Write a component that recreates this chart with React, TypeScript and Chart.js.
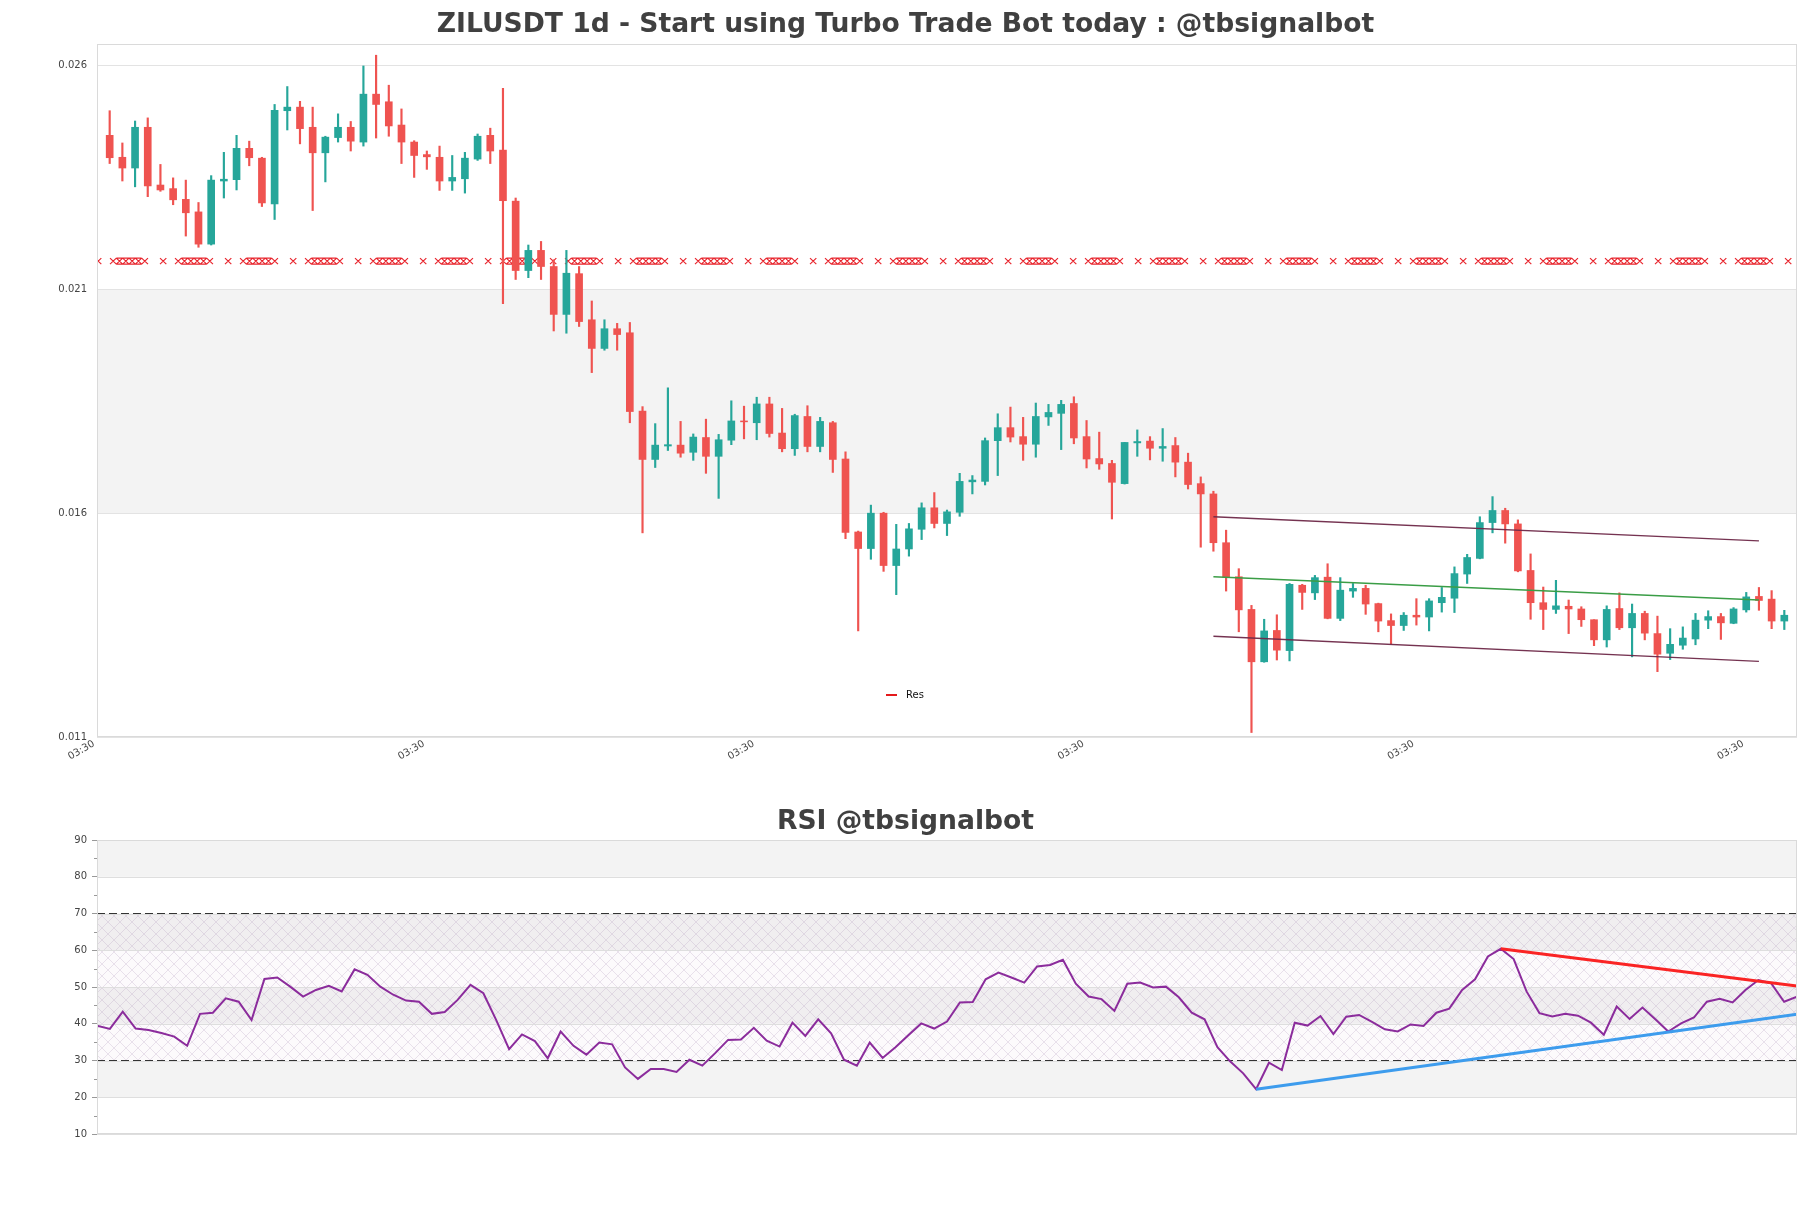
import React, { useEffect, useRef } from 'react';
import { Chart, registerables } from 'chart.js';

Chart.register(...registerables);

const TITLE = 'ZILUSDT 1d - Start using Turbo Trade Bot today : @tbsignalbot';
const RSI_TITLE = 'RSI @tbsignalbot';

const OPEN = [
  0.02444, 0.02395, 0.02371, 0.02462, 0.02333, 0.02325, 0.02301, 0.02273, 0.02201, 0.02342,
  0.02345, 0.02415, 0.02393, 0.02291, 0.02499, 0.02507, 0.02462, 0.02405, 0.02439, 0.02462,
  0.02429, 0.02536, 0.02519, 0.02467, 0.02429, 0.02401, 0.02395, 0.02342, 0.02347, 0.02391,
  0.02444, 0.02411, 0.02297, 0.02142, 0.02187, 0.02151, 0.02044, 0.02135, 0.02032, 0.01968,
  0.02012, 0.02003, 0.01828, 0.0172, 0.0175, 0.01752, 0.01736, 0.01769, 0.01727, 0.01763,
  0.01806, 0.01802, 0.01844, 0.01779, 0.01744, 0.01816, 0.01749, 0.01802, 0.01721, 0.01558,
  0.01521, 0.016, 0.01483, 0.0152, 0.01564, 0.01612, 0.01577, 0.01602, 0.0167, 0.01671,
  0.01762, 0.01791, 0.01771, 0.01754, 0.01815, 0.01823, 0.01845, 0.01771, 0.01722, 0.01711,
  0.01666, 0.01757, 0.01761, 0.01745, 0.01751, 0.01714, 0.01666, 0.01643, 0.01534, 0.01458,
  0.01385, 0.01268, 0.01338, 0.01293, 0.01439, 0.01422, 0.01457, 0.01365, 0.01426, 0.01432,
  0.01398, 0.0136, 0.01349, 0.01372, 0.01368, 0.014, 0.0141, 0.01464, 0.01499, 0.01579,
  0.01606, 0.01576, 0.01472, 0.014, 0.01385, 0.01392, 0.01386, 0.01362, 0.01317, 0.01387,
  0.01344, 0.01376, 0.01331, 0.01287, 0.01305, 0.01319, 0.01361, 0.01369, 0.01354, 0.01384,
  0.01414, 0.01408, 0.01359,
];
const HIGH = [
  0.02499, 0.02427, 0.02476, 0.02483, 0.02379, 0.02349, 0.02344, 0.02294, 0.02354, 0.02406,
  0.02444, 0.02431, 0.02395, 0.02513, 0.02553, 0.0252, 0.02507, 0.02442, 0.02492, 0.02475,
  0.02599, 0.02623, 0.02556, 0.02503, 0.02432, 0.02409, 0.0242, 0.02399, 0.02406, 0.02447,
  0.0246, 0.02549, 0.02304, 0.02199, 0.02207, 0.02166, 0.02187, 0.02151, 0.02074, 0.02032,
  0.02024, 0.02026, 0.01838, 0.018, 0.0188, 0.01805, 0.01777, 0.0181, 0.01776, 0.01851,
  0.01839, 0.01859, 0.01859, 0.01834, 0.01821, 0.0184, 0.01814, 0.01805, 0.01737, 0.0156,
  0.01618, 0.01602, 0.01575, 0.01577, 0.01623, 0.01646, 0.01607, 0.01689, 0.01684, 0.01768,
  0.01822, 0.01837, 0.01814, 0.01846, 0.01843, 0.01852, 0.0186, 0.01807, 0.01781, 0.01718,
  0.01758, 0.01786, 0.01771, 0.01789, 0.01769, 0.01734, 0.01681, 0.01649, 0.01562, 0.01476,
  0.01394, 0.01363, 0.01373, 0.01443, 0.01441, 0.01461, 0.01487, 0.01456, 0.01443, 0.01439,
  0.01399, 0.01375, 0.01378, 0.01409, 0.01409, 0.01434, 0.0148, 0.01508, 0.01592, 0.01637,
  0.01611, 0.01585, 0.01509, 0.01435, 0.0145, 0.01406, 0.01391, 0.01362, 0.01393, 0.01422,
  0.01397, 0.01381, 0.0137, 0.01342, 0.01346, 0.01376, 0.01382, 0.01376, 0.01389, 0.01423,
  0.01434, 0.01427, 0.01383,
];
const LOW = [
  0.02381, 0.02342, 0.02329, 0.02307, 0.02319, 0.02289, 0.02219, 0.02194, 0.02199, 0.02304,
  0.02322, 0.02376, 0.02285, 0.02256, 0.02456, 0.02425, 0.02276, 0.0234, 0.02429, 0.02409,
  0.0242, 0.02438, 0.02442, 0.02381, 0.0235, 0.02368, 0.02321, 0.02321, 0.02315, 0.02388,
  0.02381, 0.02068, 0.02122, 0.02126, 0.02122, 0.02007, 0.02002, 0.02017, 0.01914, 0.01964,
  0.01964, 0.01802, 0.01556, 0.01702, 0.0174, 0.01725, 0.01718, 0.01689, 0.01633, 0.01753,
  0.01766, 0.01764, 0.0177, 0.01737, 0.01729, 0.01737, 0.01737, 0.01691, 0.01543, 0.01337,
  0.01497, 0.0147, 0.01418, 0.01504, 0.01541, 0.01567, 0.0155, 0.01593, 0.01643, 0.01663,
  0.01684, 0.01759, 0.01718, 0.01725, 0.01796, 0.01742, 0.01755, 0.01701, 0.01698, 0.01587,
  0.01665, 0.01727, 0.01719, 0.01716, 0.01681, 0.01654, 0.01524, 0.01515, 0.01426, 0.01335,
  0.0111, 0.01267, 0.01272, 0.0127, 0.01385, 0.01407, 0.01364, 0.0136, 0.01412, 0.01374,
  0.01335, 0.01308, 0.01338, 0.0135, 0.01337, 0.01379, 0.01378, 0.01443, 0.01498, 0.01556,
  0.01533, 0.01469, 0.01363, 0.0134, 0.01376, 0.01331, 0.01347, 0.01304, 0.01301, 0.0134,
  0.01279, 0.01317, 0.01246, 0.01273, 0.01296, 0.01306, 0.01342, 0.01318, 0.01353, 0.01379,
  0.01383, 0.01342, 0.0134,
];
const CLOSE = [
  0.02394, 0.02371, 0.02462, 0.02331, 0.02322, 0.023, 0.02271, 0.02201, 0.02344, 0.02346,
  0.02415, 0.02394, 0.02293, 0.025, 0.02507, 0.02459, 0.02405, 0.0244, 0.02462, 0.02431,
  0.02536, 0.02513, 0.02465, 0.02429, 0.02399, 0.02396, 0.02342, 0.0235, 0.02393, 0.02442,
  0.02409, 0.02298, 0.02142, 0.02187, 0.02151, 0.02044, 0.02136, 0.02028, 0.01968, 0.02012,
  0.01999, 0.01827, 0.0172, 0.01752, 0.01753, 0.01734, 0.0177, 0.01727, 0.01764, 0.01806,
  0.01804, 0.01844, 0.01778, 0.01744, 0.01818, 0.01749, 0.01805, 0.0172, 0.01557, 0.01521,
  0.016, 0.01483, 0.0152, 0.01565, 0.01612, 0.01577, 0.01603, 0.01671, 0.01674, 0.01762,
  0.01791, 0.0177, 0.01754, 0.01816, 0.01825, 0.01843, 0.01768, 0.01721, 0.0171, 0.01669,
  0.01758, 0.0176, 0.01745, 0.01749, 0.01714, 0.01664, 0.01643, 0.01534, 0.01457, 0.01384,
  0.01268, 0.01337, 0.01294, 0.01441, 0.01423, 0.01456, 0.01365, 0.01428, 0.01432, 0.01397,
  0.01359, 0.01349, 0.01372, 0.01368, 0.01404, 0.01412, 0.01465, 0.01501, 0.01579, 0.01606,
  0.01576, 0.01471, 0.014, 0.01385, 0.01393, 0.01386, 0.01362, 0.01317, 0.01385, 0.01344,
  0.01376, 0.01332, 0.01285, 0.01307, 0.01321, 0.01361, 0.01369, 0.01355, 0.01386, 0.01413,
  0.01405, 0.01359, 0.01372,
];

const RSI = [
  39.5, 38.6, 43.3, 38.7, 38.3, 37.5, 36.5, 34.0, 42.7, 43.0,
  46.9, 46.0, 41.0, 52.2, 52.6, 50.1, 47.4, 49.2, 50.3, 48.8,
  54.8, 53.3, 50.1, 47.9, 46.3, 46.0, 42.7, 43.2, 46.5, 50.6,
  48.3, 41.0, 33.1, 37.1, 35.3, 30.6, 37.9, 34.0, 31.6, 34.9,
  34.4, 28.1, 25.0, 27.7, 27.7, 26.9, 30.2, 28.6, 32.0, 35.6,
  35.7, 38.9, 35.4, 33.8, 40.3, 36.7, 41.2, 37.4, 30.2, 28.6,
  34.9, 30.7, 33.6, 36.9, 40.1, 38.7, 40.6, 45.8, 45.9, 52.1,
  53.9, 52.6, 51.2, 55.6, 56.0, 57.4, 50.9, 47.4, 46.7, 43.5,
  50.9, 51.2, 49.9, 50.1, 47.2, 43.0, 41.2, 33.6, 29.7, 26.5,
  22.2, 29.4, 27.4, 40.3, 39.5, 42.1, 37.2, 41.9, 42.4, 40.5,
  38.5, 37.9, 39.8, 39.4, 43.0, 44.1, 49.2, 52.1, 58.3, 60.4,
  57.6, 48.8, 42.9, 42.0, 42.7, 42.2, 40.3, 37.0, 44.7, 41.3,
  44.4, 41.2, 37.9, 40.1, 41.7, 46.0, 46.8, 45.8, 49.2, 51.9,
  51.0, 46.0, 47.4,
];

const RES_LABEL = 'Res';
const RES_LEVEL = 0.02163;
const CHANNEL_X = [87, 130];
const CHANNEL_UPPER = [0.01592, 0.01538];
const CHANNEL_MID = [0.01458, 0.01406];
const CHANNEL_LOWER = [0.01325, 0.01269];

const PRICE_MIN = 0.011;
const PRICE_MAX = 0.02648;
const PRICE_TICKS = [0.011, 0.016, 0.021, 0.026];
const PRICE_BANDS = [[0.016, 0.021]];
const TIME_TICKS = [-1, 25, 51, 77, 103, 129];
const TIME_LABELS = ['03:30', '03:30', '03:30', '03:30', '03:30', '03:30'];

const RSI_MIN = 10;
const RSI_MAX = 90;
const RSI_TICKS = [10, 15, 20, 25, 30, 35, 40, 45, 50, 55, 60, 65, 70, 75, 80, 85, 90];
const RSI_GRID = [10, 20, 30, 40, 50, 60, 70, 80, 90];
const RSI_BANDS = [[20, 30], [40, 50], [60, 70], [80, 90]];
const RSI_HATCH = [30, 70];
const RSI_LEVELS = [70, 30];
const RSI_RES_X = [109, 132];
const RSI_RES_Y = [60.4, 50.3];
const RSI_SUP_X = [90, 132];
const RSI_SUP_Y = [22.2, 42.6];

const GREEN = '#26a69a';
const RED = '#ef5350';
const FONT = "'DejaVu Sans', 'Liberation Sans', sans-serif";

const N = OPEN.length;
const IDX = OPEN.map((_, i) => i);

function drawResBand(ctx: CanvasRenderingContext2D, x0: number, x1: number, yc: number) {
  const h = 3;
  const cw = 6.33;
  const period = 65;
  ctx.save();
  ctx.beginPath();
  ctx.rect(x0, yc - h - 2, x1 - x0, 2 * h + 4);
  ctx.clip();
  ctx.strokeStyle = '#e8262e';
  ctx.lineWidth = 1.2;
  ctx.beginPath();
  const cross = (q: number) => {
    ctx.moveTo(q, yc - h);
    ctx.lineTo(q + cw, yc + h);
    ctx.moveTo(q, yc + h);
    ctx.lineTo(q + cw, yc - h);
  };
  for (let p = x0 - 52; p < x1; p += period) {
    let q = p;
    for (let k = 0; k < 6; k++) {
      cross(q);
      q += cw;
    }
    ctx.moveTo(p + cw, yc - h);
    ctx.lineTo(q - cw, yc - h);
    ctx.moveTo(p + cw, yc + h);
    ctx.lineTo(q - cw, yc + h);
    cross(p + 50);
  }
  ctx.stroke();
  ctx.restore();
}

function drawBorder(chart: any, color: string) {
  const { ctx, chartArea: a } = chart;
  ctx.save();
  ctx.strokeStyle = color;
  ctx.lineWidth = 1;
  ctx.strokeRect(Math.round(a.left) + 0.5, Math.round(a.top) + 0.5, Math.round(a.right - a.left) - 1, Math.round(a.bottom - a.top) - 1);
  ctx.restore();
}

const mainPlugin = {
  id: 'mainDecor',
  beforeDraw(chart: any) {
    const { ctx, chartArea: a, scales } = chart;
    const y = scales.y;
    ctx.save();
    ctx.fillStyle = '#f3f3f3';
    for (const [lo, hi] of PRICE_BANDS) {
      const y1 = y.getPixelForValue(hi);
      const y2 = y.getPixelForValue(lo);
      ctx.fillRect(a.left, y1, a.right - a.left, y2 - y1);
    }
    ctx.restore();
  },
  beforeDatasetsDraw(chart: any) {
    const idx = chart.data.datasets.findIndex((d: any) => d.label === RES_LABEL);
    const meta = chart.getDatasetMeta(idx);
    const pts = meta.data;
    if (!pts || pts.length < 2) return;
    const a = chart.chartArea;
    drawResBand(chart.ctx, Math.max(a.left, pts[0].x), Math.min(a.right, pts[pts.length - 1].x), pts[0].y);
  },
  afterDraw(chart: any) {
    drawBorder(chart, '#dadada');
    const ctx = chart.ctx;
    const a = chart.chartArea;
    const lx = a.left + 789;
    const ly = a.bottom - 42;
    ctx.save();
    ctx.strokeStyle = '#e41a1c';
    ctx.lineWidth = 2;
    ctx.beginPath();
    ctx.moveTo(lx, ly);
    ctx.lineTo(lx + 11, ly);
    ctx.stroke();
    ctx.fillStyle = '#111';
    ctx.font = `10px ${FONT}`;
    ctx.textBaseline = 'middle';
    ctx.fillText(RES_LABEL, lx + 20, ly);
    ctx.restore();
  },
};

function makeHatch(): CanvasPattern | string {
  const c = document.createElement('canvas');
  c.width = 12;
  c.height = 12;
  const g = c.getContext('2d');
  if (!g) return 'rgba(200,170,210,0.1)';
  g.fillStyle = 'rgba(190,160,200,0.05)';
  g.fillRect(0, 0, 12, 12);
  g.strokeStyle = 'rgba(160,125,175,0.3)';
  g.lineWidth = 0.7;
  g.beginPath();
  g.moveTo(0, 0);
  g.lineTo(12, 12);
  g.moveTo(12, 0);
  g.lineTo(0, 12);
  g.stroke();
  const p = g.createPattern(c, 'repeat');
  return p || 'rgba(200,170,210,0.1)';
}

const rsiPlugin = {
  id: 'rsiDecor',
  beforeDraw(chart: any) {
    const { ctx, chartArea: a, scales } = chart;
    const y = scales.y;
    ctx.save();
    ctx.fillStyle = '#f3f3f3';
    for (const [lo, hi] of RSI_BANDS) {
      const y1 = y.getPixelForValue(hi);
      const y2 = y.getPixelForValue(lo);
      ctx.fillRect(a.left, y1, a.right - a.left, y2 - y1);
    }
    const h1 = y.getPixelForValue(RSI_HATCH[1]);
    const h2 = y.getPixelForValue(RSI_HATCH[0]);
    ctx.fillStyle = makeHatch();
    ctx.fillRect(a.left, h1, a.right - a.left, h2 - h1);
    ctx.strokeStyle = '#dedede';
    ctx.lineWidth = 1;
    ctx.beginPath();
    for (const v of RSI_GRID) {
      const py = Math.round(y.getPixelForValue(v)) + 0.5;
      ctx.moveTo(a.left, py);
      ctx.lineTo(a.right, py);
    }
    ctx.stroke();
    ctx.strokeStyle = '#999';
    ctx.beginPath();
    for (const v of RSI_TICKS) {
      if (v % 10 === 0) continue;
      const py = Math.round(y.getPixelForValue(v)) + 0.5;
      ctx.moveTo(a.left - 3, py);
      ctx.lineTo(a.left, py);
    }
    ctx.stroke();
    ctx.restore();
  },
  afterDraw(chart: any) {
    drawBorder(chart, '#dadada');
  },
};

function mainConfig(): any {
  const colors = IDX.map((i) => (CLOSE[i] >= OPEN[i] ? GREEN : RED));
  const line = (label: string, ys: number[], color: string, width: number) => ({
    type: 'line',
    label,
    data: CHANNEL_X.map((x, k) => ({ x, y: ys[k] })),
    borderColor: color,
    borderWidth: width,
    pointRadius: 0,
    tension: 0,
    order: 0,
  });
  return {
    type: 'bar',
    data: {
      datasets: [
        {
          type: 'bar',
          label: 'wick',
          data: IDX.map((i) => ({ x: i, y: [LOW[i], HIGH[i]] })),
          backgroundColor: colors,
          barThickness: 1.5,
          grouped: false,
          order: 3,
        },
        {
          type: 'bar',
          label: 'body',
          data: IDX.map((i) => ({ x: i, y: [OPEN[i], CLOSE[i]] })),
          backgroundColor: colors,
          barThickness: 7,
          grouped: false,
          order: 2,
        },
        {
          type: 'line',
          label: RES_LABEL,
          data: [{ x: -1, y: RES_LEVEL }, { x: N, y: RES_LEVEL }],
          borderColor: 'rgba(0,0,0,0)',
          borderWidth: 0,
          pointRadius: 0,
          order: 4,
        },
        line('upper', CHANNEL_UPPER, 'rgba(110,40,72,0.95)', 1.4),
        line('mid', CHANNEL_MID, '#3a9d46', 1.3),
        line('lower', CHANNEL_LOWER, 'rgba(110,40,72,0.95)', 1.4),
      ],
    },
    options: {
      responsive: false,
      maintainAspectRatio: false,
      animation: false,
      events: [],
      layout: { padding: { left: 14, right: 14, top: 0, bottom: 0 } },
      plugins: {
        legend: { display: false },
        tooltip: { enabled: false },
        title: {
          display: true,
          text: TITLE,
          color: '#404040',
          font: { family: FONT, size: 26.6, weight: 'bold' },
          padding: { top: 9, bottom: 3.1 },
        },
      },
      scales: {
        x: {
          type: 'linear',
          min: -1,
          max: N,
          offset: false,
          grid: { display: false, drawTicks: false, offset: false },
          border: { display: false },
          afterBuildTicks: (s: any) => {
            s.ticks = TIME_TICKS.map((v) => ({ value: v }));
          },
          afterFit: (s: any) => {
            s.height = 53;
          },
          ticks: {
            autoSkip: false,
            minRotation: 30,
            maxRotation: 30,
            padding: 1,
            labelOffset: -3,
            color: '#444',
            font: { family: FONT, size: 10 },
            callback: (_v: any, i: number) => TIME_LABELS[i] ?? '',
          },
        },
        y: {
          type: 'linear',
          min: PRICE_MIN,
          max: PRICE_MAX,
          beginAtZero: false,
          grid: { color: '#e3e3e3', drawTicks: false },
          border: { display: false },
          afterBuildTicks: (s: any) => {
            s.ticks = PRICE_TICKS.map((v) => ({ value: v }));
          },
          afterFit: (s: any) => {
            s.width = 83;
          },
          ticks: {
            padding: 10,
            color: '#444',
            font: { family: FONT, size: 10 },
            callback: (v: any) => Number(v).toFixed(3),
          },
        },
      },
    },
    plugins: [mainPlugin],
  };
}

function rsiConfig(): any {
  const levelSets = RSI_LEVELS.map((lv) => ({
    label: `level${lv}`,
    data: [{ x: 0, y: lv }, { x: N - 1, y: lv }],
    borderColor: '#333',
    borderWidth: 1.2,
    borderDash: [8, 4],
    pointRadius: 0,
    order: 3,
  }));
  return {
    type: 'line',
    data: {
      datasets: [
        {
          label: 'res',
          data: RSI_RES_X.map((x, k) => ({ x, y: RSI_RES_Y[k] })),
          borderColor: '#fa2424',
          borderWidth: 3,
          pointRadius: 0,
          order: 0,
        },
        {
          label: 'sup',
          data: RSI_SUP_X.map((x, k) => ({ x, y: RSI_SUP_Y[k] })),
          borderColor: '#3d9ced',
          borderWidth: 3,
          pointRadius: 0,
          order: 0,
        },
        {
          label: 'RSI',
          data: IDX.map((i) => ({ x: i, y: RSI[i] })),
          borderColor: '#8b2c9c',
          borderWidth: 2,
          pointRadius: 0,
          tension: 0,
          order: 1,
        },
        ...levelSets,
      ],
    },
    options: {
      responsive: false,
      maintainAspectRatio: false,
      animation: false,
      events: [],
      layout: { padding: { left: 14, right: 14, top: 0, bottom: 0 } },
      plugins: {
        legend: { display: false },
        tooltip: { enabled: false },
        title: {
          display: true,
          text: RSI_TITLE,
          color: '#404040',
          font: { family: FONT, size: 26.6, weight: 'bold' },
          padding: { top: 16, bottom: 2.1 },
        },
      },
      scales: {
        x: {
          type: 'linear',
          min: 0,
          max: N - 1,
          grid: { display: false, drawTicks: false },
          border: { display: false },
          ticks: { display: false },
          afterFit: (s: any) => {
            s.height = 74;
          },
        },
        y: {
          type: 'linear',
          min: RSI_MIN,
          max: RSI_MAX,
          grid: {
            drawOnChartArea: false,
            drawTicks: true,
            tickLength: 5,
            tickColor: (c: any) => (c.tick && Number(c.tick.value) % 10 === 0 ? '#999' : 'rgba(0,0,0,0)'),
          },
          border: { display: false },
          afterBuildTicks: (s: any) => {
            s.ticks = RSI_TICKS.map((v) => ({ value: v }));
          },
          afterFit: (s: any) => {
            s.width = 83;
          },
          ticks: {
            padding: 5,
            color: '#444',
            autoSkip: false,
            font: { family: FONT, size: 10 },
            callback: (v: any) => (Number(v) % 10 === 0 ? String(v) : ''),
          },
        },
      },
    },
    plugins: [rsiPlugin],
  };
}

export default function App() {
  const mainRef = useRef<HTMLCanvasElement>(null);
  const rsiRef = useRef<HTMLCanvasElement>(null);
  useEffect(() => {
    Chart.defaults.font.family = FONT;
    const c1 = new Chart(mainRef.current as HTMLCanvasElement, mainConfig());
    const c2 = new Chart(rsiRef.current as HTMLCanvasElement, rsiConfig());
    return () => {
      c1.destroy();
      c2.destroy();
    };
  }, []);
  return (
    <div style={{ position: 'absolute', left: 0, top: 0, width: 1811, height: 1208, background: '#fff' }}>
      <canvas
        ref={mainRef}
        width={1811}
        height={790}
        style={{ position: 'absolute', left: 0, top: 0, width: 1811, height: 790 }}
      />
      <canvas
        ref={rsiRef}
        width={1811}
        height={418}
        style={{ position: 'absolute', left: 0, top: 790, width: 1811, height: 418 }}
      />
    </div>
  );
}
